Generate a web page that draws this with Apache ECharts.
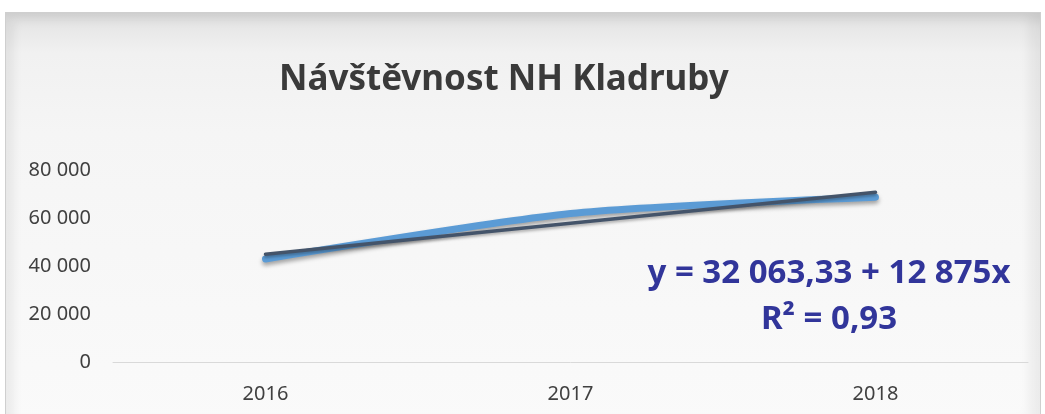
<!DOCTYPE html>
<html>
<head>
<meta charset="utf-8">
<script src="https://cdn.jsdelivr.net/npm/echarts@6/dist/echarts.min.js"></script>
<style>
  html, body { margin: 0; padding: 0; background: #fff; }
  #frame {
    position: absolute; left: 5px; top: 12px; width: 1036px; height: 410px;
    border: 1px solid #cfcfcf; box-sizing: border-box;
    background: linear-gradient(#e2e2e2 0px, #f1f1f1 40px, #f5f5f5 120px, #fafafa 414px);
    box-shadow: inset 8px 8px 10px rgba(0,0,0,0.06), inset -10px 0 12px rgba(0,0,0,0.06);
  }
  #main { position: absolute; left: 0; top: 0; width: 1045px; height: 414px; }
</style>
</head>
<body>
<div id="frame"></div>
<div id="main"></div>
<script>
// hodnoty
var years = ['2016', '2017', '2018'];
var visitors = [42900, 61890, 68650];
// lineární trend y = 32 063,33 + 12 875x
var trend = [44938, 57813, 70688];
var yTicks = { min: 0, max: 80000, step: 20000 };

function fmt(v) {
  return String(v).replace(/\B(?=(\d{3})+(?!\d))/g, ' ');
}

var myChart = echarts.init(document.getElementById('main'));
myChart.setOption({
  backgroundColor: 'transparent',
  animation: false,
  title: {
    text: 'Návštěvnost NH Kladruby',
    left: 274,
    top: 58,
    textStyle: {
      fontFamily: 'Noto Sans',
      fontWeight: 'bold',
      fontSize: 35,
      color: '#3a3a3a'
    }
  },
  grid: { left: 113, right: 17, top: 170, bottom: 52 },
  xAxis: {
    type: 'category',
    data: years,
    axisLine: { lineStyle: { color: '#d9d9d9', width: 1 } },
    axisTick: { show: false },
    axisLabel: { color: '#404040', fontSize: 20, margin: 22, fontFamily: 'Noto Sans' }
  },
  yAxis: {
    type: 'value',
    min: yTicks.min,
    max: yTicks.max,
    interval: yTicks.step,
    axisLine: { show: false },
    axisTick: { show: false },
    splitLine: { show: false },
    axisLabel: { color: '#404040', fontSize: 20, margin: 22, fontFamily: 'Noto Sans', formatter: fmt }
  },
  graphic: [{
    type: 'text',
    style: {
      x: 829, y: 257,
      text: 'y = 32 063,33 + 12 875x',
      textAlign: 'center',
      textVerticalAlign: 'top',
      font: 'bold 33px "Noto Sans"',
      fill: '#31359a'
    }
  }, {
    type: 'text',
    style: {
      x: 829, y: 303,
      text: 'R² = 0,93',
      textAlign: 'center',
      textVerticalAlign: 'top',
      font: 'bold 33px "Noto Sans"',
      fill: '#31359a'
    }
  }],
  series: [{
    name: 'Návštěvnost',
    type: 'line',
    data: visitors,
    showSymbol: false,
    smooth: 0.25,
    lineStyle: {
      color: '#5b9bd5', width: 7, cap: 'round',
      shadowColor: 'rgba(0,0,0,0.35)', shadowBlur: 4, shadowOffsetY: 3
    },
    z: 2
  }, {
    name: 'Trend',
    type: 'line',
    data: trend,
    showSymbol: false,
    lineStyle: {
      color: '#44546a', width: 3.5, cap: 'round',
      shadowColor: 'rgba(0,0,0,0.3)', shadowBlur: 3, shadowOffsetY: 2
    },
    z: 3
  }]
});
</script>
</body>
</html>
